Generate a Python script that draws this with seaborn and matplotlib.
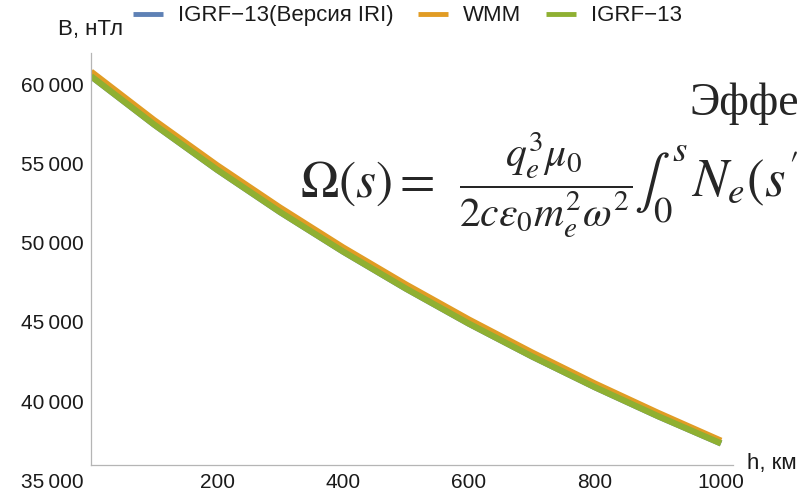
import pandas as pd
import matplotlib.pyplot as plt
import seaborn as sns
import numpy as np
from matplotlib.ticker import MultipleLocator, FixedLocator, FuncFormatter

# высота, км и модуль поля, нТл
h = [0, 100, 200, 300, 400, 500, 600, 700, 800, 900, 1000]
b_igrf_iri = [60555, 57500, 54640, 51960, 49460, 47110, 44890, 42820, 40870, 39040, 37315]
b_wmm = [60845, 57780, 54920, 52240, 49720, 47370, 45150, 43070, 41100, 39250, 37485]
b_igrf = [60555, 57500, 54640, 51960, 49460, 47110, 44890, 42820, 40870, 39040, 37315]

names = ["IGRF\u221213(Версия IRI)", "WMM", "IGRF\u221213"]
colors = ["#5E81B5", "#E19C24", "#8FB032"]

df = pd.DataFrame({
    "h": h * 3,
    "B": b_igrf_iri + b_wmm + b_igrf,
    "model": [names[0]] * len(h) + [names[1]] * len(h) + [names[2]] * len(h),
})

sns.set_style("white")
plt.rcParams['font.family'] = ['Liberation Sans', 'DejaVu Sans']
plt.rcParams['mathtext.fontset'] = 'stix'

fig = plt.figure(figsize=(8.02, 4.97), dpi=100)
ax = fig.add_axes([0.1135, 0.031, 0.8005, 0.8624])

sns.lineplot(data=df, x="h", y="B", hue="model", palette=colors,
             linewidth=4.5, ax=ax, legend=True)
for ln in ax.lines:
    ln.set_solid_capstyle("butt")

ax.set_xlim(0, 1019)
ax.set_ylim(34900, 62025)

# оси как в Mathematica
ax.spines["top"].set_visible(False)
ax.spines["right"].set_visible(False)
ax.spines["bottom"].set_position(("data", 35950))
ax.spines["left"].set_bounds(35950, 62025)
for s in ["bottom", "left"]:
    ax.spines[s].set_color("#b5b5b5")
    ax.spines[s].set_linewidth(0.9)

ax.xaxis.set_major_locator(FixedLocator([200, 400, 600, 800, 1000]))
ax.xaxis.set_minor_locator(MultipleLocator(50))
ax.yaxis.set_major_locator(MultipleLocator(5000))
ax.yaxis.set_minor_locator(MultipleLocator(1000))
ax.yaxis.set_major_formatter(FuncFormatter(lambda v, p: f"{int(v):,}".replace(",", "\u2009")))

ax.tick_params(which="both", direction="in", colors="#b5b5b5", labelcolor="#1a1a1a", labelsize=15)
ax.tick_params(which="major", length=4, width=0.8)
ax.tick_params(which="minor", length=2.5, width=0.6)
ax.tick_params(axis="x", pad=6)
ax.tick_params(axis="y", pad=5)

ax.set_xlabel("")
ax.set_ylabel("")
fig.text(0.072, 1 - 30 / 497, "B, нТл", fontsize=16, color="#1a1a1a", va="center", ha="left")
fig.text(0.931, 1 - 464 / 497, "h, км", fontsize=16, color="#1a1a1a", va="center", ha="left")

leg = ax.legend(loc="center", bbox_to_anchor=(0.508, 0.968), bbox_transform=fig.transFigure,
                ncol=3, frameon=False, fontsize=16, handlelength=1.35, handletextpad=0.68,
                columnspacing=1.1)
for t in leg.get_texts():
    t.set_color("#1a1a1a")
for l in leg.get_lines():
    l.set_linewidth(3.5)

# наложенный текст со слайда
fig.text(0.86, 1 - 104 / 497, "Эффе", fontsize=33, family="Liberation Serif", va="center", ha="left")
fig.text(300 / 802, 1 - 197 / 497, r"$\Omega(s) =$", fontsize=37, va="baseline", ha="left")
fig.text(546 / 802, 1 - 185 / 497, r"$\dfrac{q_e^3\mu_0}{2c\varepsilon_0 m_e^2\omega^2}$",
         fontsize=30, va="center", ha="center")
fig.text(634 / 802, 1 - 197 / 497, r"$\int_0^s\, N_e(s^{\prime}$",
         fontsize=38, va="baseline", ha="left")

plt.savefig("out.png", dpi=100)
